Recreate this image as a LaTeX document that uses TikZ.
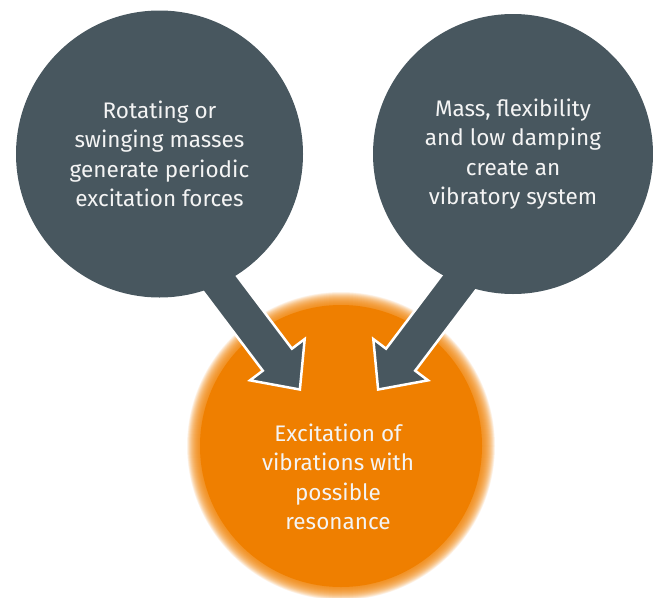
\documentclass[tikz,border=0pt]{standalone}
\usepackage{fontspec}
\setmainfont{Fira Sans}
\usepackage{tikz}
\usetikzlibrary{shapes.arrows,positioning,calc}
\definecolor{SlateGrey}{RGB}{72,87,95}
\definecolor{ResOrange}{RGB}{239,127,0}
\definecolor{LabelWhite}{RGB}{244,244,244}
\tikzset{
  causa/.style={circle, fill=SlateGrey, inner sep=0pt, align=center,
                text=LabelWhite, font=\fontsize{22.5}{29.5}\selectfont},
  efeito/.style={circle, fill=ResOrange, inner sep=0pt},
  rotulo/.style={align=center, text=LabelWhite, font=\fontsize{22.5}{29.5}\selectfont},
  % broad arrow with a thin white rim
  seta/.style={single arrow, draw=white, fill=SlateGrey, line width=2.5pt,
               inner xsep=0pt, inner ysep=17pt, minimum width=66pt,
               single arrow head extend=16pt,
               single arrow tip angle=85, minimum height=232pt,
               sloped, allow upside down, anchor=tip},
  brilho/.style={fill=ResOrange, opacity=0.07},
}

\begin{document}
\begin{tikzpicture}[x=1pt, y=-1pt]

  \useasboundingbox (0,0) rectangle (653,597);

  % soft edge of the orange disc
  \coordinate (ocentre) at (341,446);
  \foreach \r in {141,141.5,...,154}
    \fill[brilho] (ocentre) circle[radius=\r];
  \node[efeito, minimum size=282pt] (ocirc) at (ocentre) {};
  \node[rotulo] (otext) at (338,477) {Excitation of\\vibrations with\\possible\\resonance};

  \coordinate (lstart) at (159,203);
  \coordinate (ltip)   at (301,391);
  \coordinate (rstart) at (519,203);
  \coordinate (rtip)   at (377,391);

  \path (lstart) -- (ltip) node[seta, pos=1] (larrow) {};
  \path (rstart) -- (rtip) node[seta, pos=1] (rarrow) {};

  \node[causa, minimum size=287pt] (lcirc) at (159.5,154) {Rotating or\\swinging masses\\generate periodic\\excitation forces};
  \node[causa, minimum size=280pt] (rcirc) at (513,154)   {Mass, flexibility\\and low damping\\create an\\vibratory system};

\end{tikzpicture}
\end{document}
